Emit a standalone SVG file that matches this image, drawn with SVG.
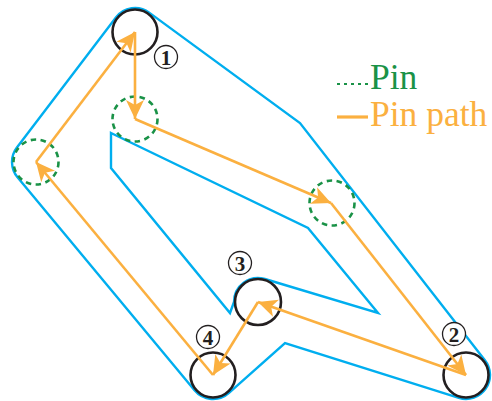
<svg xmlns="http://www.w3.org/2000/svg" width="492" height="401" viewBox="0 0 492 401">
  <style>
    .outline { fill: none; stroke: #00AEEF; stroke-width: 2.4; stroke-linejoin: miter; }
    .node { fill: none; stroke: #231F20; stroke-width: 2.6; }
    .pin { fill: none; stroke: #1A9247; stroke-width: 2.6; stroke-dasharray: 5.5 4.5; }
    .route { fill: none; stroke: #FBB040; stroke-width: 2.6; marker-end: url(#head); }
    .tag circle { fill: #fff; stroke: #231F20; stroke-width: 1.3; }
    .tag text { font-family: "Liberation Serif", "Times New Roman", serif; font-weight: bold; font-size: 21px; fill: #231F20; text-anchor: middle; }
    .legend { font-family: "Liberation Serif", "Times New Roman", serif; font-size: 35.5px; }
  </style>
  <defs>
    <marker id="head" markerUnits="userSpaceOnUse" markerWidth="22" markerHeight="20" refX="20" refY="10" orient="auto" overflow="visible">
      <path d="M20,10 L1,1 L6,10 L1,19 Z" fill="#FBB040"/>
    </marker>
  </defs>

  <!-- board boundary: outer contour and inner cut-out -->
  <g id="boundary">
    <path class="outline" d="M16.9,147.5 L115.9,17.5 A24 24 0 0 1 149.2,12.6 L300,123 L484.9,360.2 A24 24 0 0 1 458.8,397.9 L285,343 L229,392.9 A24 24 0 0 1 194.5,390.3 L17.5,177.3 A24 24 0 0 1 16.9,147.5 Z"/>
    <path class="outline" d="M111,133 L308,228 L378,313 L264.9,279 A24 24 0 0 0 234,302 L230,313 L111,168 Z"/>
  </g>

  <!-- numbered nodes -->
  <g id="node1"><circle class="node" cx="135" cy="32" r="22.5"/></g>
  <g id="node2"><circle class="node" cx="466" cy="375" r="22.5"/></g>
  <g id="node3"><circle class="node" cx="258" cy="302" r="23"/></g>
  <g id="node4"><circle class="node" cx="213" cy="375" r="22.5"/></g>

  <!-- pins -->
  <g id="pinLeft"><circle class="pin" cx="36" cy="162" r="22.5"/></g>
  <g id="pinTop"><circle class="pin" cx="135" cy="119" r="22.5"/></g>
  <g id="pinRight"><circle class="pin" cx="332" cy="203" r="22.5"/></g>

  <!-- pin path connectors -->
  <g id="connectors">
    <line class="route" x1="213" y1="375" x2="36" y2="162"/>
    <line class="route" x1="36" y1="162" x2="135" y2="32"/>
    <line class="route" x1="135" y1="32" x2="135" y2="119"/>
    <line class="route" x1="135" y1="119" x2="331" y2="203"/>
    <line class="route" x1="331" y1="203" x2="466" y2="375"/>
    <line class="route" x1="466" y1="375" x2="258" y2="302"/>
    <line class="route" x1="258" y1="302" x2="213" y2="375"/>
  </g>

  <!-- node numbers -->
  <g id="tag1" class="tag"><circle cx="166" cy="57" r="11.5"/><text x="166" y="64.5">1</text></g>
  <g id="tag2" class="tag"><circle cx="454" cy="334" r="11.5"/><text x="454" y="341.5">2</text></g>
  <g id="tag3" class="tag"><circle cx="240" cy="263" r="11.5"/><text x="240" y="270.5">3</text></g>
  <g id="tag4" class="tag"><circle cx="208" cy="337" r="11.5"/><text x="208" y="344.5">4</text></g>

  <!-- legend -->
  <g id="legend">
    <line x1="337" y1="84" x2="370" y2="84" stroke="#1A9247" stroke-width="2" stroke-dasharray="3 4"/>
    <text class="legend" x="370" y="89" fill="#1A9247">Pin</text>
    <line x1="337" y1="117" x2="368" y2="117" stroke="#FBB040" stroke-width="3.2"/>
    <text class="legend" x="370" y="126" fill="#FBB040">Pin path</text>
  </g>
</svg>
